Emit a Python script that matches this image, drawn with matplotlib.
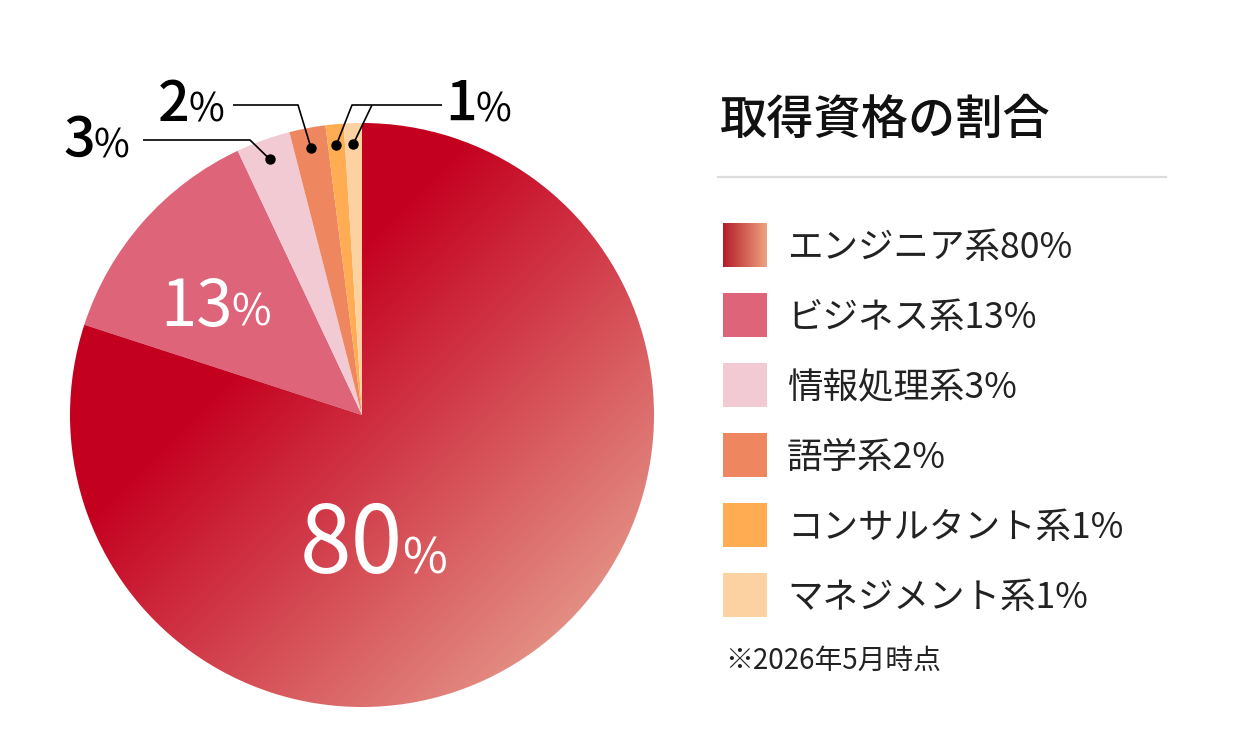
import numpy as np
import matplotlib.pyplot as plt
from matplotlib.colors import LinearSegmentedColormap
from matplotlib.patches import Rectangle

plt.rcParams['font.family'] = ['Noto Sans CJK JP', 'DejaVu Sans']

# data
categories = ['エンジニア系', 'ビジネス系', '情報処理系', '語学系', 'コンサルタント系', 'マネジメント系']
shares = [80, 13, 3, 2, 1, 1]
colors = ['#c4001f', '#de6479', '#f2cad3', '#ee8760', '#ffac52', '#fdd2a2']
grad_colors = ['#c4001f', '#e38c82']
swatch_grad = ['#b51c2a', '#eea27f']
title = '取得資格の割合'
note = '※2026年5月時点'

W, H = 1260, 756
cx, cy, R = 362, 415, 292

fig = plt.figure(figsize=(12.6, 7.56), dpi=100)

# pie
ax = fig.add_axes([(cx - R) / W, (H - cy - R) / H, 2 * R / W, 2 * R / H])
wedges, _ = ax.pie(shares, colors=colors, startangle=90, counterclock=False,
                   radius=1, wedgeprops=dict(linewidth=0))

# diagonal gradient on the big slice
u = np.linspace(-1, 1, 700)
U, V = np.meshgrid(u, u)
S = np.clip((U - V + 0.6) / 2.0, 0, 1)
cmap = LinearSegmentedColormap.from_list('g', grad_colors)
img = ax.imshow(S, cmap=cmap, extent=(-1, 1, -1, 1), origin='lower', vmin=0, vmax=1,
                zorder=wedges[0].get_zorder() + 0.1, interpolation='bilinear')
img.set_clip_path(wedges[0])
wedges[0].set_facecolor('none')
ax.set_xlim(-1, 1)
ax.set_ylim(-1, 1)
ax.set_aspect('equal')

# overlay in pixel coords
ov = fig.add_axes([0, 0, 1, 1])
ov.set_xlim(0, W)
ov.set_ylim(H, 0)
ov.axis('off')
ov.patch.set_visible(False)


def dot_pos(i, r=0.93):
    a = np.deg2rad((wedges[i].theta1 + wedges[i].theta2) / 2)
    return cx + R * r * np.cos(a), cy - R * r * np.sin(a)


# leader lines
leaders = {2: [(143, 140), (250, 140)],
           3: [(233, 105), (298, 105)],
           4: [(442, 105), (352, 105)],
           5: [(372, 105)]}
for i, pts in leaders.items():
    d = dot_pos(i)
    xs = [p[0] for p in pts] + [d[0]]
    ys = [p[1] for p in pts] + [d[1]]
    ov.plot(xs, ys, color='black', lw=1.2, solid_capstyle='butt')
    ov.plot(d[0], d[1], 'o', color='black', ms=6.5)

fig.canvas.draw()
renderer = fig.canvas.get_renderer()


def pct_label(x, y, num, big, small, color, weight, pweight, gap):
    t = ov.text(x, y, num, fontsize=big, color=color, weight=weight,
                ha='left', va='baseline')
    bb = t.get_window_extent(renderer)
    xr = ov.transData.inverted().transform((bb.x1, 0))[0]
    ov.text(xr + gap, y, '%', fontsize=small, color=color, weight=pweight,
            ha='left', va='baseline')


pct_label(300, 573, str(shares[0]), 67, 35, 'white', 'normal', 'normal', -1)
pct_label(160, 326, str(shares[1]), 47, 31, 'white', 'normal', 'normal', -1)
pct_label(63, 157, str(shares[2]), 40, 28, 'black', 'medium', 'normal', -1)
pct_label(158, 121, str(shares[3]), 40, 28, 'black', 'medium', 'normal', -1)
pct_label(445, 121, str(shares[4]), 40, 28, 'black', 'medium', 'normal', -1)

# legend panel
ov.text(720, 120, title, fontsize=34, weight='medium', color='#111111',
        ha='left', va='center')
ov.plot([718, 1166], [177, 177], color='#dcdcdc', lw=1.6)

for i, (cat, val) in enumerate(zip(categories, shares)):
    yc = 245 + 70 * i
    if i == 0:
        gx = np.linspace(0, 1, 100).reshape(1, -1)
        ov.imshow(gx, cmap=LinearSegmentedColormap.from_list('s', swatch_grad),
                  extent=(723, 767, yc + 22, yc - 22), aspect='auto', zorder=2)
    else:
        ov.add_patch(Rectangle((723, yc - 22), 44, 44, facecolor=colors[i],
                               edgecolor='none'))
    ov.text(787, yc + 3, f'{cat}{val}%', fontsize=25.6, color='#222222',
            ha='left', va='center')

ov.set_xlim(0, W)
ov.set_ylim(H, 0)
ov.text(725, 661, note, fontsize=20, color='#222222', ha='left', va='center')

fig.savefig('out.png', dpi=100)
